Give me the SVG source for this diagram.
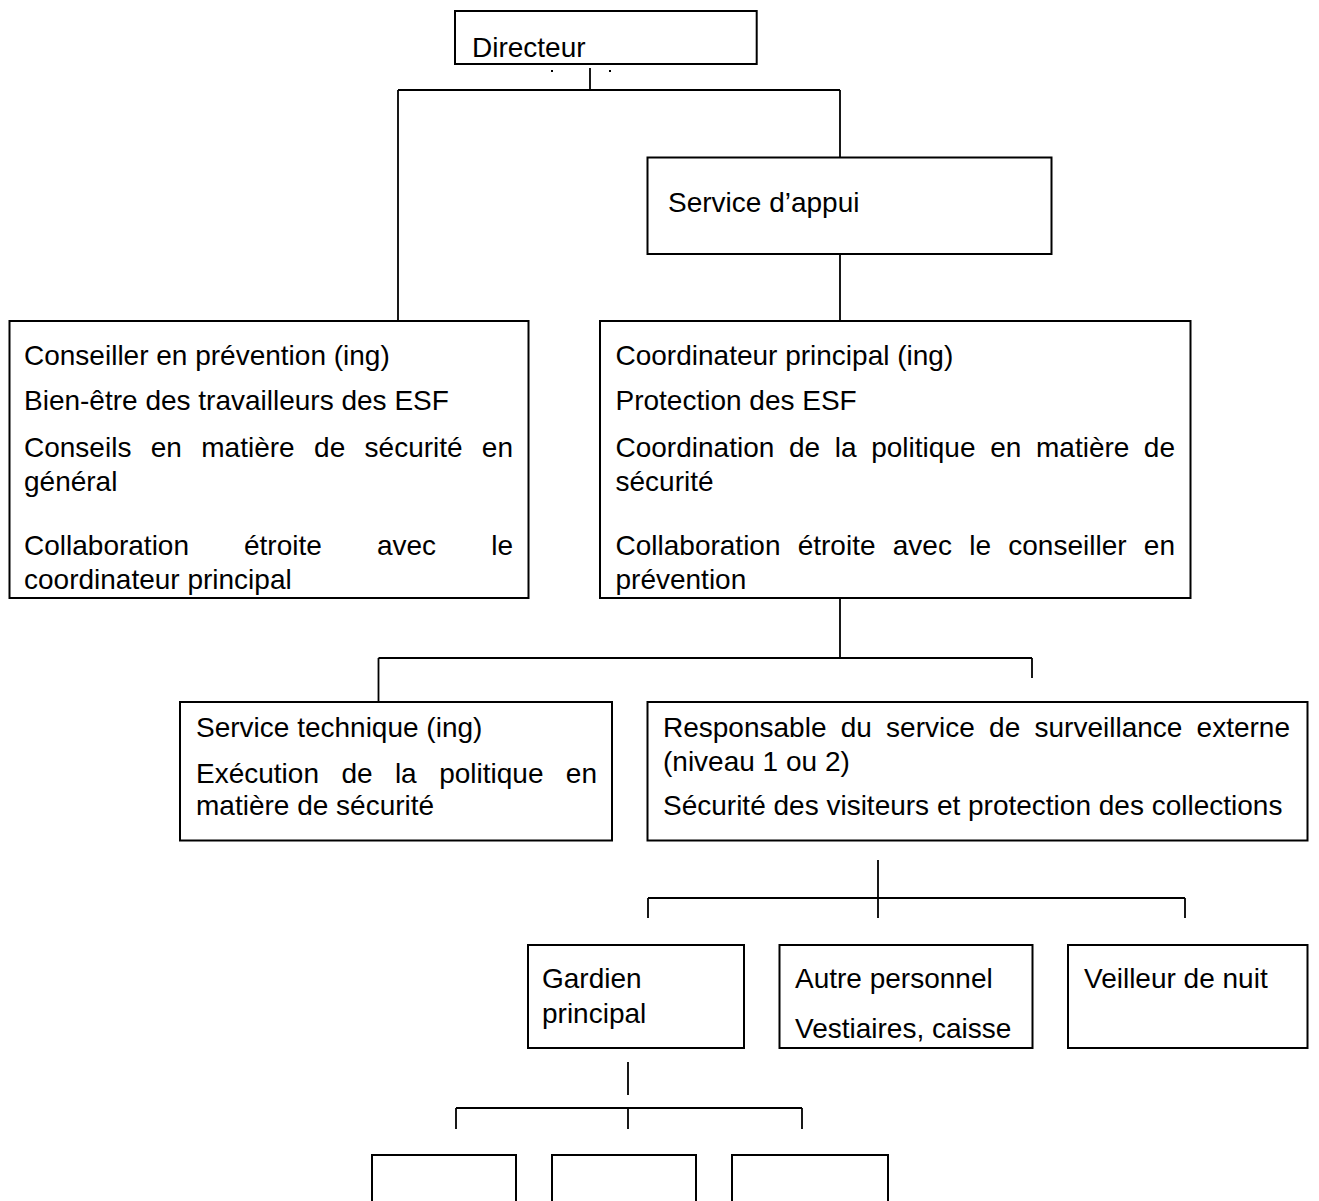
<svg xmlns="http://www.w3.org/2000/svg" width="1319" height="1201" viewBox="0 0 1319 1201">
<style>
.box{fill:#fff;stroke:#000;stroke-width:2}
.ln{stroke:#000;stroke-width:1.8;fill:none}
.t{font-family:"Liberation Sans",Arial,sans-serif;font-size:28px;fill:#000}
.e{text-anchor:end}
</style>
<rect x="0" y="0" width="1319" height="1201" fill="#fff"/>
<g id="connectors">
<path class="ln" d="M590 68V90" stroke-width="2.5"/>
<rect x="551" y="70" width="2" height="2" fill="#000"/>
<rect x="609" y="70" width="2" height="2" fill="#000"/>
<path class="ln" d="M398 90H840M398 90V321M840 90V157.5M840 254V321"/>
<path class="ln" d="M840 598V658M378.5 658H1032M378.5 658V706M1032 658V678"/>
<path class="ln" d="M570 658H591" stroke-width="3"/>
<path class="ln" d="M878 860V918M648 898H1185M648 898V918M1185 898V918"/>
<path class="ln" d="M628 1062V1095M456 1108H802M456 1108V1129M628 1108V1129M802 1108V1129"/>
</g>
<g id="directeur">
<rect class="box" x="455" y="11" width="301.7" height="53"/>
<text class="t" x="472" y="57">Directeur</text>
</g>
<g id="service_appui">
<rect class="box" x="647.5" y="157.5" width="404" height="96.5"/>
<text class="t" x="668" y="212">Service d’appui</text>
</g>
<g id="conseiller">
<rect class="box" x="9.5" y="321" width="519" height="277"/>
<text class="t" x="24" y="365">Conseiller en prévention (ing)</text>
<text class="t" x="24" y="410">Bien-être des travailleurs des ESF</text>
<text class="t" y="457"><tspan x="24">Conseils</tspan><tspan x="150.8">en</tspan><tspan x="201.3">matière</tspan><tspan x="314.1">de</tspan><tspan x="364.6">sécurité</tspan></text>
<text class="t e" x="513" y="457">en</text>
<text class="t" x="24" y="491">général</text>
<text class="t" y="555"><tspan x="24">Collaboration</tspan><tspan x="244">étroite</tspan><tspan x="376.9">avec</tspan></text>
<text class="t e" x="513" y="555">le</text>
<text class="t" x="24" y="589">coordinateur principal</text>
</g>
<g id="coordinateur">
<rect class="box" x="600" y="321" width="590.5" height="277"/>
<text class="t" x="615.5" y="365">Coordinateur principal (ing)</text>
<text class="t" x="615.5" y="410">Protection des ESF</text>
<text class="t" y="457"><tspan x="615.5">Coordination</tspan><tspan x="788.9">de</tspan><tspan x="834.7">la</tspan><tspan x="871.2">politique</tspan><tspan x="990.2">en</tspan><tspan x="1036">matière</tspan></text>
<text class="t e" x="1175" y="457">de</text>
<text class="t" x="615.5" y="491">sécurité</text>
<text class="t" y="555"><tspan x="615.5">Collaboration</tspan><tspan x="797.7">étroite</tspan><tspan x="892.8">avec</tspan><tspan x="969.2">le</tspan><tspan x="1008.3">conseiller</tspan></text>
<text class="t e" x="1175" y="555">en</text>
<text class="t" x="615.5" y="589">prévention</text>
</g>
<g id="service_technique">
<rect class="box" x="180" y="702" width="432" height="138.5"/>
<text class="t" x="196" y="737">Service technique (ing)</text>
<text class="t" y="783"><tspan x="196">Exécution</tspan><tspan x="341.4">de</tspan><tspan x="394.9">la</tspan><tspan x="439.2">politique</tspan></text>
<text class="t e" x="597" y="783">en</text>
<text class="t" x="196" y="815">matière de sécurité</text>
</g>
<g id="responsable">
<rect class="box" x="647.5" y="702" width="660" height="138.5"/>
<text class="t" y="737"><tspan x="663">Responsable</tspan><tspan x="840.7">du</tspan><tspan x="886.1">service</tspan><tspan x="989.1">de</tspan><tspan x="1034.5">surveillance</tspan></text>
<text class="t e" x="1290" y="737">externe</text>
<text class="t" x="663" y="771">(niveau 1 ou 2)</text>
<text class="t" x="663" y="815">Sécurité des visiteurs et protection des collections</text>
</g>
<g id="gardien">
<rect class="box" x="528" y="945" width="216" height="103"/>
<text class="t" x="542" y="988">Gardien</text>
<text class="t" x="542" y="1023">principal</text>
</g>
<g id="autre">
<rect class="box" x="779.5" y="945" width="253" height="103"/>
<text class="t" x="795" y="988">Autre personnel</text>
<text class="t" x="795" y="1038">Vestiaires, caisse</text>
</g>
<g id="veilleur">
<rect class="box" x="1068" y="945" width="239.5" height="103"/>
<text class="t" x="1084" y="988">Veilleur de nuit</text>
</g>
<g id="agent1"><rect class="box" x="372" y="1155" width="144" height="60"/></g>
<g id="agent2"><rect class="box" x="552" y="1155" width="144" height="60"/></g>
<g id="agent3"><rect class="box" x="732" y="1155" width="156" height="60"/></g>
</svg>
